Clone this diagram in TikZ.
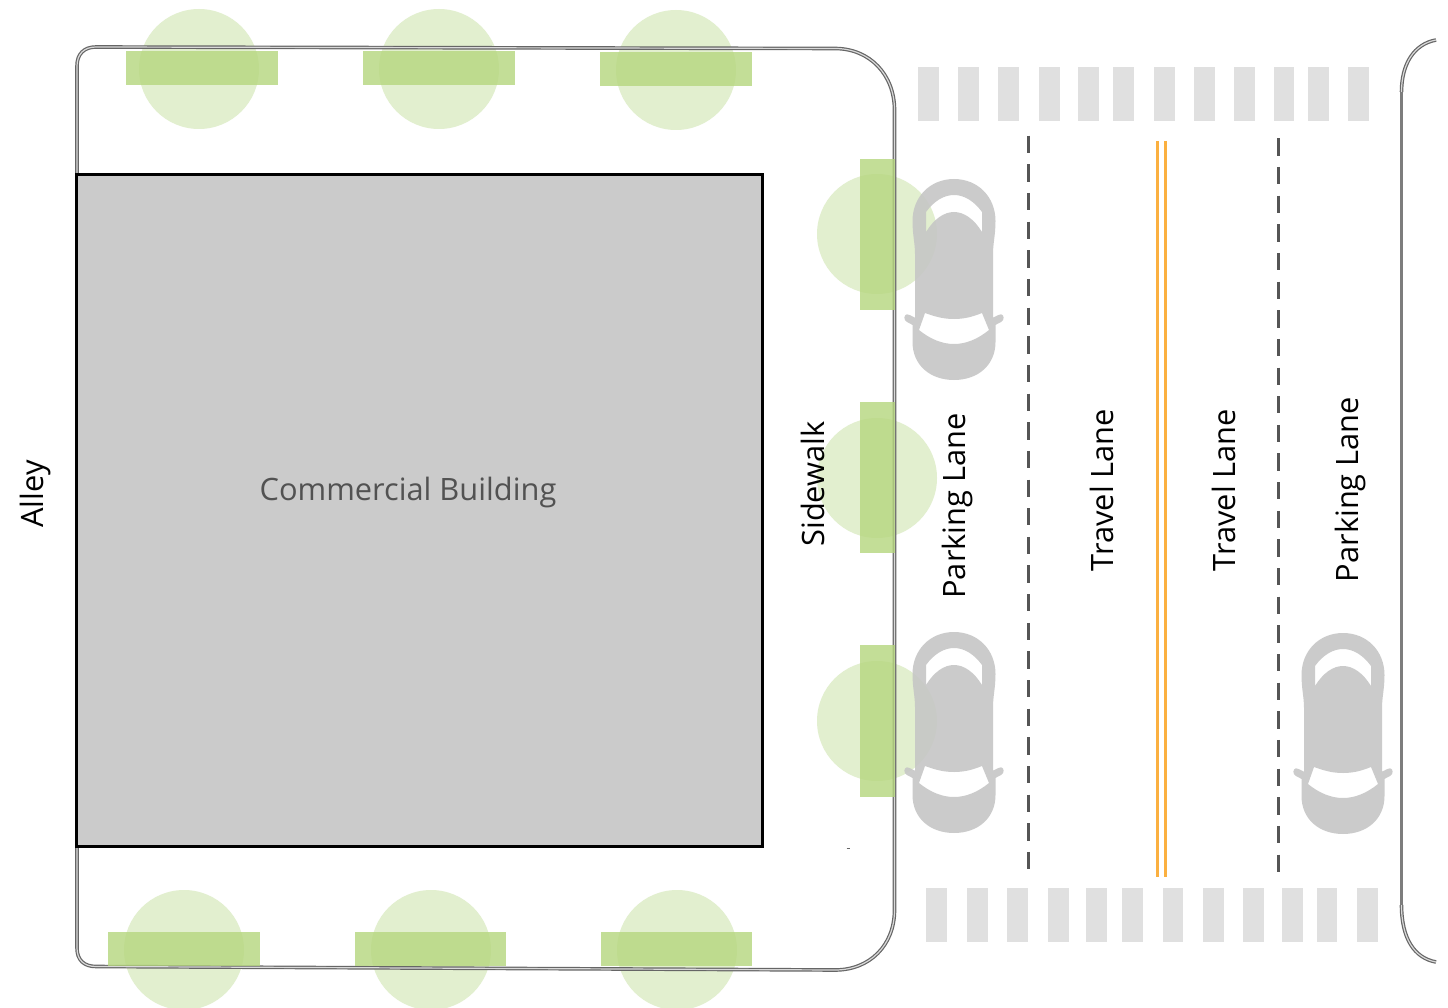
\documentclass[tikz,border=0pt]{standalone}
\usepackage{fontspec}
\setmainfont{Open Sans}
\definecolor{treec}{HTML}{E2EFCF}
\definecolor{planter}{HTML}{B5D67E}
\definecolor{carc}{HTML}{C6C6C6}
\definecolor{zebra}{HTML}{E0E0E0}
\definecolor{bldg}{HTML}{CBCBCB}
\definecolor{curb}{HTML}{666666}
\definecolor{dashc}{HTML}{555555}
\definecolor{yellowline}{HTML}{FBB040}
\tikzset{
  x=1pt,y=-1pt,
  tree/.style={fill=treec,draw=none},
  plant/.style={fill=planter,fill opacity=.8,draw=none},
  zebrabar/.style={fill=zebra,draw=none},
  curbout/.style={draw=curb,line width=3.6pt},
  curbin/.style={draw=white!85!black,line width=1.2pt},
  curbsolid/.style={draw=curb!85!white,line width=3.4pt},
  lanedash/.style={draw=dashc,line width=3pt,dash pattern=on 17.3pt off 11.35pt},
  centerline/.style={draw=yellowline,line width=3pt},
  lab/.style={font=\fontsize{30.8}{36}\selectfont,text=black,inner sep=0pt},
  car/.pic={
    \path[fill=carc,fill opacity=.9,even odd rule]
      (0,0) .. controls (24,0) and (41.5,18) .. (41.5,42)
      .. controls (41.5,56) and (39,64) .. (39,75)
      -- (39,138.7) .. controls (43,137) and (45,135) .. (47,135.3)
      .. controls (50,135.5) and (51,141) .. (47,143)
      .. controls (45,144) and (43,145) .. (41.5,146)
      -- (41.5,163) .. controls (41.5,186) and (24,201) .. (0,201)
      .. controls (-24,201) and (-41.5,186) .. (-41.5,163)
      -- (-41.5,146) .. controls (-43,145) and (-45,144) .. (-47,143)
      .. controls (-51,141) and (-50,135.5) .. (-47,135.3)
      .. controls (-45,135) and (-43,137) .. (-39,138.7)
      -- (-39,75) .. controls (-39,64) and (-41.5,56) .. (-41.5,42)
      .. controls (-41.5,18) and (-24,0) .. (0,0) -- cycle
      (-28,33) .. controls (-20,22) and (-10,16) .. (0,16)
      .. controls (10,16) and (20,22) .. (28,33)
      -- (28,53) .. controls (20,40) and (10,33) .. (0,33)
      .. controls (-10,33) and (-20,40) .. (-28,53) -- cycle
      (-29,134) .. controls (-18,138) and (-10,140) .. (0,140)
      .. controls (10,140) and (18,138) .. (28,134)
      -- (35,151) .. controls (24,160) and (12,165) .. (0,165)
      .. controls (-12,165) and (-24,160) .. (-35,151) -- cycle;
  }
}
\begin{document}
\begin{tikzpicture}
\useasboundingbox (0,0) rectangle (1448,1008);
\fill[white] (0,0) rectangle (1448,1008);
% trees
\foreach \cx/\cy in {199/69,439/69,676/70,877/234,877/478,877/721,184/950,431/950,677/950}{
  \begin{scope}
    \clip (0,0) rectangle (1448,1008);
    \fill[tree] (\cx,\cy) circle[radius=60];
  \end{scope}
}
% block outline
\foreach \st in {curbout,curbin}{
  \draw[\st] (77,175) -- (77,66) .. controls (77,54) and (84,47) .. (96,47)
    -- (835,48.5) .. controls (870,48.5) and (894.5,75) .. (894.5,110)
    -- (894.5,910) .. controls (894.5,945) and (870,970) .. (835,970)
    -- (96,966.5) .. controls (84,966.5) and (77,960) .. (77,948) -- (77,847);
  \draw[\st] (1436,40) .. controls (1414,44) and (1401.5,64) .. (1401.5,92);
  \draw[\st] (1401.5,905) .. controls (1401.5,938) and (1414,958) .. (1436,962);
}
\draw[curbsolid] (1401.5,92) -- (1401.5,905);
% planters
\foreach \xa/\ya/\xb/\yb in {126/51/278/85,363/51/515/85,600/52/752/86,
  860/159/895/310,860/402/895/553,860/645/895/797,
  108/932/260/966,355/932/506/966,601/932/752/966}{
  \fill[plant] (\xa,\ya) rectangle (\xb,\yb);
}
% building
\node[draw=black,fill=bldg,line width=3pt,minimum width=686pt,minimum height=672pt,inner sep=0pt,outer sep=0pt,anchor=center] (building) at (419.5,510.5) {};
\node[text=black!68,font=\fontsize{30.8}{36}\selectfont,inner sep=0pt] (bldglabel) at (408,492) {Commercial Building};
\draw[curb,line width=.8pt] (846.5,848.5) -- (850,848.5);
% crosswalks
\foreach \xa/\xb in {918/939,958/979,998/1019,1039/1060,1078/1099,1113/1134,1154/1175,1194/1215,1234/1255,1274/1294,1308/1329,1348/1369}{
  \fill[zebrabar] (\xa,67) rectangle (\xb,121);
}
\foreach \xa/\xb in {926/947,967/988,1007/1028,1048/1069,1086/1107,1122/1143,1163/1183,1203/1224,1243/1264,1282/1303,1317/1337,1357/1378}{
  \fill[zebrabar] (\xa,888) rectangle (\xb,942);
}
% lane lines
\coordinate (da) at (1028.7,135.7); \coordinate (db) at (1028.7,868.7);
\coordinate (dc) at (1278,138.3); \coordinate (dd) at (1278,871.7);
\draw[lanedash] (da) -- (db);
\draw[lanedash] (dc) -- (dd);
\coordinate (ya) at (1157.7,141); \coordinate (yb) at (1157.7,877);
\coordinate (yc) at (1165.8,141); \coordinate (yd) at (1165.8,877);
\draw[centerline] (ya) -- (yb);
\draw[centerline] (yc) -- (yd);
% cars
\pic at (954,179) {car};
\pic at (954,632) {car};
\pic at (1343,633) {car};
% labels
\node[lab,rotate=90] (alley) at (35.5,494) {Alley};
\node[lab,rotate=90] (sidewalk) at (813,484) {Sidewalk};
\node[lab,rotate=90] (parkL) at (957,506) {Parking Lane};
\node[lab,rotate=90] (travL) at (1101.5,490) {Travel Lane};
\node[lab,rotate=90] (travR) at (1224,490) {Travel Lane};
\node[lab,rotate=90] (parkR) at (1350,489.5) {Parking Lane};
\end{tikzpicture}
\end{document}
